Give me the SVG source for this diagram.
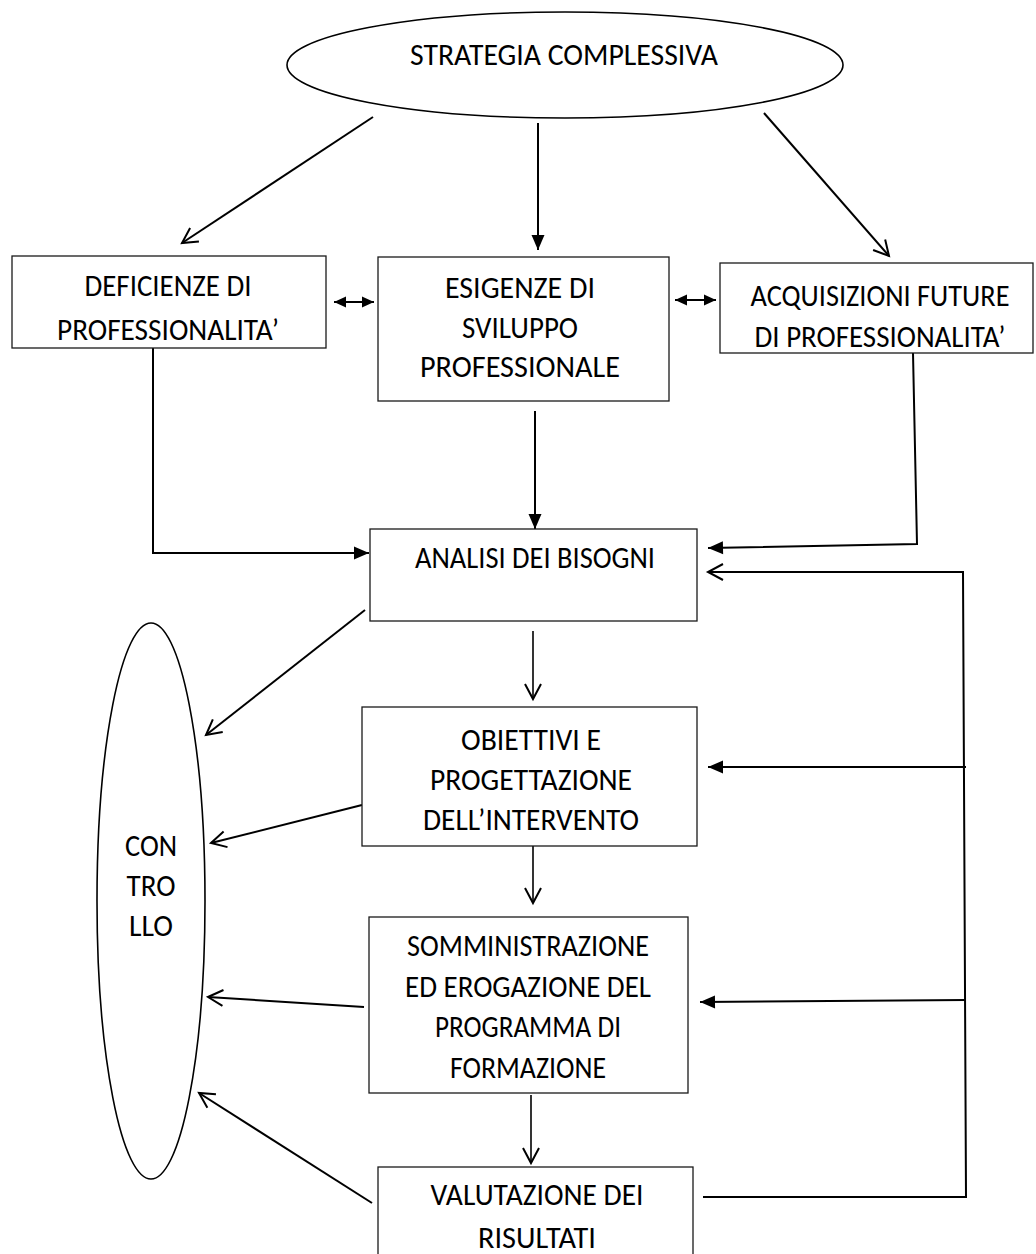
<svg xmlns="http://www.w3.org/2000/svg" width="1036" height="1254" viewBox="0 0 1036 1254">
  <style>
    .bg { fill: #ffffff; }
    .shape { fill: #ffffff; stroke: #000000; stroke-width: 1.6; }
    .box { fill: #ffffff; stroke: #1a1a1a; stroke-width: 1.3; }
    .lbl { font-family: "Carlito", "Liberation Sans", Arial, sans-serif; font-size: 30px; fill: #000000; text-anchor: middle; }
    .wire { fill: none; stroke: #000000; stroke-width: 2; }
    .wire-thin { fill: none; stroke: #000000; stroke-width: 1.6; }
  </style>
  <defs>
    <marker id="open" markerUnits="userSpaceOnUse" markerWidth="40" markerHeight="40" viewBox="-20 -20 40 40" refX="0" refY="0" orient="auto" overflow="visible">
      <path d="M-15,-8 L0,0 L-15,8" fill="none" stroke="#000000" stroke-width="2"/>
    </marker>
    <marker id="solid" markerUnits="userSpaceOnUse" markerWidth="40" markerHeight="40" viewBox="-20 -20 40 40" refX="0" refY="0" orient="auto" overflow="visible">
      <path d="M-15,-6.5 L0,0 L-15,6.5 Z" fill="#000000"/>
    </marker>
    <marker id="small" markerUnits="userSpaceOnUse" markerWidth="30" markerHeight="30" viewBox="-15 -15 30 30" refX="0" refY="0" orient="auto-start-reverse" overflow="visible">
      <path d="M-12,-5.5 L0,0 L-12,5.5 Z" fill="#000000"/>
    </marker>
  </defs>

  <rect class="bg" x="0" y="0" width="1036" height="1254"/>

  <!-- connectors -->
  <g id="connectors">
    <!-- from the overall strategy -->
    <line class="wire" x1="373" y1="117" x2="182" y2="243" marker-end="url(#open)"/>
    <line class="wire" x1="538" y1="123" x2="538" y2="250" marker-end="url(#solid)"/>
    <line class="wire" x1="764" y1="113" x2="889" y2="256" marker-end="url(#open)"/>

    <!-- two-way links between the three needs -->
    <line class="wire" x1="334" y1="302" x2="374" y2="302" marker-start="url(#small)" marker-end="url(#small)"/>
    <line class="wire" x1="675" y1="300" x2="716" y2="300" marker-start="url(#small)" marker-end="url(#small)"/>

    <!-- into the needs analysis -->
    <polyline class="wire" points="153,348 153,553 369,553" marker-end="url(#solid)"/>
    <line class="wire" x1="535" y1="411" x2="535" y2="529" marker-end="url(#solid)"/>
    <polyline class="wire" points="913,353 917,544 708,548" marker-end="url(#solid)"/>

    <!-- feedback loop from the evaluation -->
    <polyline class="wire" points="703,1197 966,1197 963,572 708,572" marker-end="url(#open)"/>
    <line class="wire" x1="966" y1="767" x2="708" y2="767" marker-end="url(#solid)"/>
    <line class="wire" x1="966" y1="1000" x2="700" y2="1002" marker-end="url(#solid)"/>

    <!-- main sequence -->
    <line class="wire-thin" x1="533" y1="631" x2="533" y2="699" marker-end="url(#open)"/>
    <line class="wire-thin" x1="533" y1="838" x2="533" y2="903" marker-end="url(#open)"/>
    <line class="wire-thin" x1="531" y1="1095" x2="531" y2="1163" marker-end="url(#open)"/>

    <!-- towards control -->
    <line class="wire" x1="365" y1="610" x2="206" y2="735" marker-end="url(#open)"/>
    <line class="wire" x1="362" y1="805" x2="211" y2="843" marker-end="url(#open)"/>
    <line class="wire" x1="364" y1="1007" x2="208" y2="997" marker-end="url(#open)"/>
    <line class="wire" x1="372" y1="1203" x2="199" y2="1093" marker-end="url(#open)"/>
  </g>

  <g id="strategia">
    <ellipse class="shape" cx="565" cy="65" rx="278" ry="53"/>
    <text class="lbl" x="564" y="65" textLength="308" lengthAdjust="spacingAndGlyphs">STRATEGIA COMPLESSIVA</text>
  </g>

  <g id="deficienze">
    <rect class="box" x="12" y="256" width="314" height="92"/>
    <text class="lbl" x="168" y="296" textLength="167" lengthAdjust="spacingAndGlyphs">DEFICIENZE DI</text>
    <text class="lbl" x="168" y="340" textLength="222" lengthAdjust="spacingAndGlyphs">PROFESSIONALITA’</text>
  </g>

  <g id="esigenze">
    <rect class="box" x="378" y="257" width="291" height="144"/>
    <text class="lbl" x="520" y="298" textLength="150" lengthAdjust="spacingAndGlyphs">ESIGENZE DI</text>
    <text class="lbl" x="520" y="338" textLength="116" lengthAdjust="spacingAndGlyphs">SVILUPPO</text>
    <text class="lbl" x="520" y="377" textLength="200" lengthAdjust="spacingAndGlyphs">PROFESSIONALE</text>
  </g>

  <g id="acquisizioni">
    <rect class="box" x="720" y="263" width="313" height="90"/>
    <text class="lbl" x="880" y="306" textLength="259" lengthAdjust="spacingAndGlyphs">ACQUISIZIONI FUTURE</text>
    <text class="lbl" x="880" y="347" textLength="251" lengthAdjust="spacingAndGlyphs">DI PROFESSIONALITA’</text>
  </g>

  <g id="analisi">
    <rect class="box" x="370" y="529" width="327" height="92"/>
    <text class="lbl" x="535" y="568" textLength="240" lengthAdjust="spacingAndGlyphs">ANALISI DEI BISOGNI</text>
  </g>

  <g id="obiettivi">
    <rect class="box" x="362" y="707" width="335" height="139"/>
    <text class="lbl" x="531" y="750" textLength="140" lengthAdjust="spacingAndGlyphs">OBIETTIVI E</text>
    <text class="lbl" x="531" y="790" textLength="202" lengthAdjust="spacingAndGlyphs">PROGETTAZIONE</text>
    <text class="lbl" x="531" y="830" textLength="216" lengthAdjust="spacingAndGlyphs">DELL’INTERVENTO</text>
  </g>

  <g id="somministrazione">
    <rect class="box" x="369" y="917" width="319" height="176"/>
    <text class="lbl" x="528" y="956" textLength="242" lengthAdjust="spacingAndGlyphs">SOMMINISTRAZIONE</text>
    <text class="lbl" x="528" y="997" textLength="246" lengthAdjust="spacingAndGlyphs">ED EROGAZIONE DEL</text>
    <text class="lbl" x="528" y="1037" textLength="186" lengthAdjust="spacingAndGlyphs">PROGRAMMA DI</text>
    <text class="lbl" x="528" y="1078" textLength="156" lengthAdjust="spacingAndGlyphs">FORMAZIONE</text>
  </g>

  <g id="valutazione">
    <rect class="box" x="378" y="1167" width="315" height="100"/>
    <text class="lbl" x="537" y="1205" textLength="213" lengthAdjust="spacingAndGlyphs">VALUTAZIONE DEI</text>
    <text class="lbl" x="537" y="1248" textLength="118" lengthAdjust="spacingAndGlyphs">RISULTATI</text>
  </g>

  <g id="controllo">
    <ellipse class="shape" cx="151" cy="901" rx="54" ry="278"/>
    <text class="lbl" x="151" y="856" textLength="52" lengthAdjust="spacingAndGlyphs">CON</text>
    <text class="lbl" x="151" y="896" textLength="49" lengthAdjust="spacingAndGlyphs">TRO</text>
    <text class="lbl" x="151" y="936" textLength="44" lengthAdjust="spacingAndGlyphs">LLO</text>
  </g>
</svg>
